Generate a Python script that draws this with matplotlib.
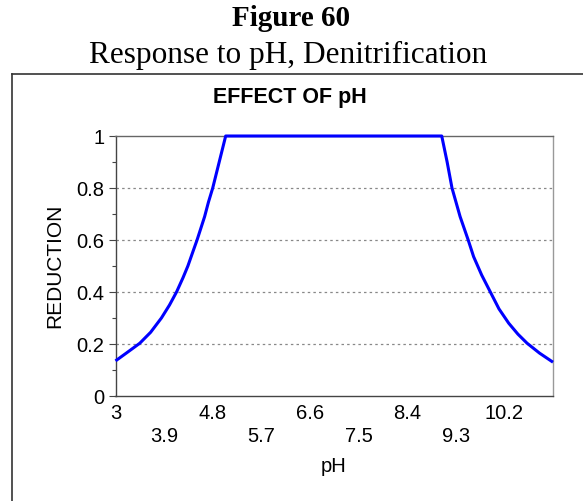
import matplotlib
matplotlib.use("Agg")
import matplotlib.pyplot as plt
from matplotlib.lines import Line2D

# pH response curve for denitrification
ph = [3.0, 3.2, 3.45, 3.65, 3.85, 4.0, 4.13, 4.25, 4.34, 4.45, 4.51, 4.58,
      4.65, 4.72, 4.8, 4.92, 5.04,
      9.04, 9.14, 9.23, 9.38, 9.53, 9.63, 9.78, 9.94, 10.1, 10.28, 10.45,
      10.62, 10.85, 11.1]
reduction = [0.135, 0.165, 0.203, 0.245, 0.30, 0.35, 0.40, 0.455, 0.50, 0.565,
             0.60, 0.645, 0.69, 0.745, 0.80, 0.90, 1.0,
             1.0, 0.90, 0.80, 0.69, 0.60, 0.536, 0.465, 0.40, 0.335, 0.28,
             0.238, 0.203, 0.165, 0.13]

upper_ticks = [3, 4.8, 6.6, 8.4, 10.2]
lower_ticks = [3.9, 5.7, 7.5, 9.3]
y_ticks = [0, 0.2, 0.4, 0.6, 0.8, 1]
y_labels = ["0", "0.2", "0.4", "0.6", "0.8", "1"]

W, H = 583, 501
fig = plt.figure(figsize=(W / 100, H / 100), dpi=100)
fig.patch.set_facecolor("white")

# document heading above the framed chart
fig.text(291 / W, 1 - 19 / H, "Figure 60", family="Liberation Serif",
         weight="bold", fontsize=21, ha="center", va="center")
fig.text(288 / W, 1 - 55 / H, "Response to pH, Denitrification",
         family="Liberation Serif", fontsize=22.5, ha="center", va="center")

# frame around the chart image (cut off at right and bottom)
fig.add_artist(Line2D([12 / W, 1], [1 - 74 / H, 1 - 74 / H],
                      transform=fig.transFigure, color="#333333", lw=1.2))
fig.add_artist(Line2D([12 / W, 12 / W], [0, 1 - 74 / H],
                      transform=fig.transFigure, color="#333333", lw=1.2))

ax = fig.add_axes([115.5 / W, 1 - 396 / H, (553 - 115.5) / W, (396 - 136) / H])
ax.plot(ph, reduction, color="#0000ff", lw=2.2, solid_joinstyle="round",
        solid_capstyle="butt", clip_on=False, zorder=5)

ax.set_xlim(3, 11.1)
ax.set_ylim(0, 1)

ax.set_yticks(y_ticks)
ax.set_yticklabels(y_labels, family="Liberation Sans", fontsize=14.5)
ax.set_yticks([0.1, 0.3, 0.5, 0.7, 0.9], minor=True)
ax.tick_params(axis="y", which="major", length=5, width=0.8, color="#444444", pad=3)
ax.tick_params(axis="y", which="minor", length=3, width=0.8, color="#444444")

# staggered x labels: two rows
ax.set_xticks(upper_ticks)
ax.set_xticklabels([str(t) for t in upper_ticks], family="Liberation Sans", fontsize=14.5)
ax.set_xticks(lower_ticks, minor=True)
ax.set_xticklabels([str(t) for t in lower_ticks], minor=True,
                   family="Liberation Sans", fontsize=14.5)
ax.tick_params(axis="x", which="major", length=0, pad=6)
ax.tick_params(axis="x", which="minor", length=0, pad=22)

for y in [0.2, 0.4, 0.6, 0.8]:
    ax.axhline(y, color="#888888", lw=0.9, ls=(0, (2, 2.5)), zorder=0)

ax.spines["left"].set_color("#444444")
ax.spines["bottom"].set_color("#444444")
ax.spines["top"].set_color("#666666")
ax.spines["right"].set_color("#999999")
for s in ax.spines.values():
    s.set_linewidth(1.0)

fig.text(290 / W, 1 - 97 / H, "EFFECT OF pH", family="Liberation Sans",
         weight="bold", fontsize=15.5, ha="center", va="center")
fig.text(55 / W, 1 - 266 / H, "REDUCTION", family="Liberation Sans",
         fontsize=15, rotation=90, ha="center", va="center")
fig.text(334 / W, 1 - 466 / H, "pH", family="Liberation Sans",
         fontsize=14.5, ha="center", va="center")

fig.savefig("out.png", dpi=100)
